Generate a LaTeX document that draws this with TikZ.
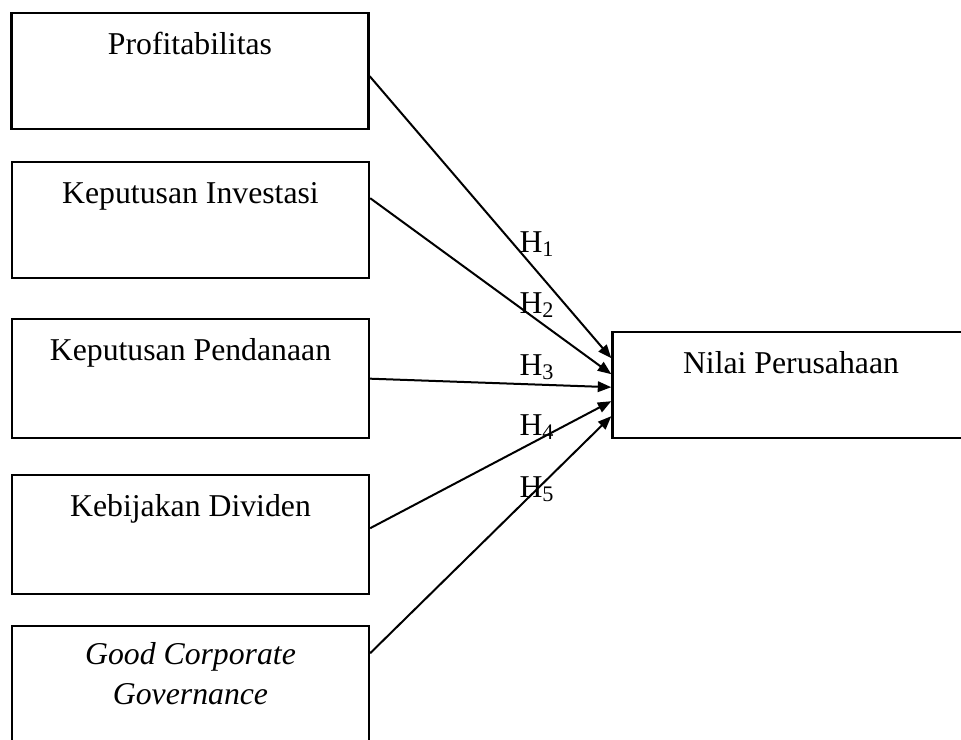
\documentclass[tikz,border=0pt]{standalone}
\usepackage{fontspec}
\setmainfont{Liberation Serif}
\usetikzlibrary{arrows.meta,calc}

\begin{document}
\begin{tikzpicture}[x=0.4pt,y=-0.4pt]
    \tikzstyle{var}=[draw,line width=0.95pt,anchor=north,minimum width=142.8pt,inner xsep=0pt,inner ysep=0pt,text height=16.4pt,text depth=30pt,align=center,font=\fontsize{12.7}{16.2}\selectfont]
    \tikzstyle{hyp}=[anchor=base west,inner sep=0pt,font=\fontsize{12.7}{15}\selectfont]
    \tikzstyle{arr}=[line width=0.8pt,-{Triangle[length=5.4pt,width=4.2pt]}]

    \clip (0,0) rectangle (961,740);

    \node[var] at (190,12) (prof) {Profitabilitas};
    \node[var] at (190.5,161) (inv) {Keputusan Investasi};
    \node[var,text depth=31.2pt] at (190.5,318) (pend) {Keputusan Pendanaan};
    \node[var,text depth=31.2pt] at (190.5,474) (div) {Kebijakan Dividen};
    \node[var,text height=31.4pt,text depth=16.2pt] at (190.5,625) (gcg) {\itshape Good Corporate\\ \itshape Governance};
    \node[var,text depth=26pt] at (791,331) (nilai) {Nilai Perusahaan};

    \node[hyp] at (519,252) (h1) {H\textsubscript{1}};
    \node[hyp] at (519,313) (h2) {H\textsubscript{2}};
    \node[hyp] at (519,375) (h3) {H\textsubscript{3}};
    \node[hyp] at (519,435) (h4) {H\textsubscript{4}};
    \node[hyp] at (519,497) (h5) {H\textsubscript{5}};

    \draw[arr] ($(prof.east)+(0,5)$) -- ($(nilai.west)+(0,-27)$);
    \draw[arr] ($(inv.east)+(0,-22)$) -- ($(nilai.west)+(0,-11)$);
    \draw[arr] (pend.east) -- ($(nilai.west)+(0,2)$);
    \draw[arr] ($(div.east)+(0,-6.5)$) -- ($(nilai.west)+(0,16)$);
    \draw[arr] ($(gcg.east)+(0,-32.5)$) -- ($(nilai.west)+(0,31)$);
\end{tikzpicture}
\end{document}
